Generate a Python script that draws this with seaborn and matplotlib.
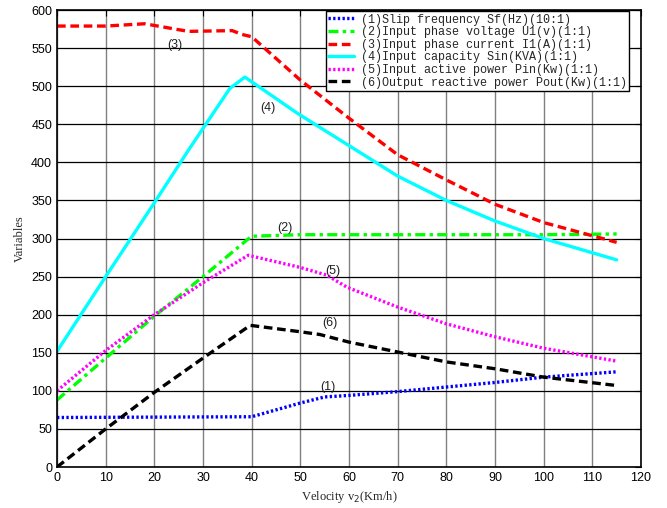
import numpy as np
import pandas as pd
import seaborn as sns
import matplotlib.pyplot as plt

# (1) slip frequency (10:1)
x_sf = [0, 40, 50, 55, 60, 70, 80, 90, 100, 115]
y_sf = [65, 66, 84, 92, 94, 99, 105, 111, 118, 125]
# (2) input phase voltage
x_u1 = [0, 10, 20, 30, 39, 40, 50, 60, 80, 100, 115]
y_u1 = [88, 143, 198, 250, 298, 303, 305, 305, 305, 305, 306]
# (3) input phase current
x_i1 = [0, 10, 18, 27, 36, 38, 40, 50, 60, 70, 80, 90, 100, 115]
y_i1 = [579, 579, 582, 572, 573, 568, 565, 508, 458, 410, 377, 345, 321, 295]
# (4) input capacity
x_sin = [0, 10, 20, 27, 35.5, 38.6, 49.5, 60, 70, 80, 90, 100, 115]
y_sin = [152, 250, 347, 416, 497, 512, 464, 422, 382, 350, 323, 300, 272]
# (5) input active power
x_pin = [0, 10, 20, 30, 39.3, 50, 55.4, 59.6, 70, 80, 90, 100, 115]
y_pin = [100, 153, 200, 242, 278, 262, 252, 236, 210, 188, 171, 156, 139]
# (6) output reactive power
x_pout = [0, 10, 20, 30, 39.7, 49.5, 54, 60, 70, 80, 90, 100, 115]
y_pout = [0, 50, 98, 143, 186, 178, 174, 164, 151, 138, 129, 118, 107]

labels = ['(1)Slip frequency Sf(Hz)(10:1)',
          '(2)Input phase voltage U1(v)(1:1)',
          '(3)Input phase current I1(A)(1:1)',
          '(4)Input capacity Sin(KVA)(1:1)',
          '(5)Input active power Pin(Kw)(1:1)',
          '(6)Output reactive power Pout(Kw)(1:1)']
series = [(x_sf, y_sf), (x_u1, y_u1), (x_i1, y_i1),
          (x_sin, y_sin), (x_pin, y_pin), (x_pout, y_pout)]
colors = ['#0000ff', '#00ff00', '#ff0000', '#00ffff', '#ff00ff', '#000000']
styles = [(0, (0.7, 0.7)), (0, (3, 1.3, 1, 1.3)), (0, (2.6, 1.4)), '-',
          (0, (0.7, 0.7)), (0, (2.6, 1.4))]

# annotation positions (x, y, text)
notes = [(55.7, 105, '(1)'), (46.8, 314, '(2)'), (24.2, 554, '(3)'),
         (43.4, 472, '(4)'), (56.7, 258, '(5)'), (56, 189, '(6)')]

sns.set_style('white')
fig = plt.figure(figsize=(6.67, 5.08), dpi=100)
ax = fig.add_axes([0.0855, 0.0807, 0.8755, 0.8995])

for (xs, ys), lab, c, ls in zip(series, labels, colors, styles):
    df = pd.DataFrame({'v': xs, 'val': ys})
    sns.lineplot(data=df, x='v', y='val', ax=ax, color=c, linestyle=ls,
                 linewidth=2.4, label=lab)

for x, y, t in notes:
    ax.text(x, y, t, fontsize=9, ha='center', va='center',
            family='Liberation Sans', color='#222222')

ax.set_xlim(0, 120)
ax.set_ylim(0, 600)
ax.set_xticks(np.arange(0, 121, 10))
ax.set_yticks(np.arange(0, 601, 50))
ax.xaxis.grid(True, color='#808080', linewidth=1)
ax.yaxis.grid(True, color='black', linewidth=0.9)
ax.set_axisbelow(True)
ax.tick_params(direction='in', top=True, right=True, length=4,
               labelsize=9, colors='black')
for lbl in ax.get_xticklabels() + ax.get_yticklabels():
    lbl.set_family('Liberation Sans')
for sp in ax.spines.values():
    sp.set_color('black')
    sp.set_linewidth(1.2)

ax.set_xlabel('Velocity v$_2$(Km/h)', family='Liberation Serif', fontsize=9)
ax.set_ylabel('Variables', family='Liberation Serif', fontsize=9)

leg = ax.legend(loc='upper right', bbox_to_anchor=(0.982, 1.0), fancybox=False,
                framealpha=1, edgecolor='black', handlelength=2.2,
                borderpad=0.2, labelspacing=0.05, handletextpad=0.6,
                borderaxespad=0.1, prop={'family': 'Liberation Mono', 'size': 8.5})
leg.get_frame().set_linewidth(1)

fig.savefig('out.png', dpi=100)
